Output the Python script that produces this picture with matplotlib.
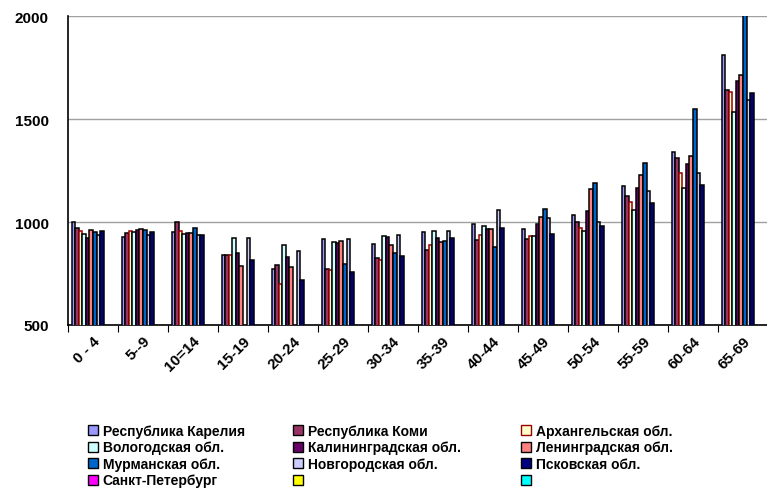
import numpy as np
import matplotlib
matplotlib.use("Agg")
import matplotlib.pyplot as plt
from matplotlib.patches import Patch

plt.rcParams['font.family'] = ['Liberation Sans', 'DejaVu Sans']

categories = ["0 - 4", "5--9", "10=14", "15-19", "20-24", "25-29", "30-34",
              "35-39", "40-44", "45-49", "50-54", "55-59", "60-64", "65-69"]

series_names = ["Республика Карелия", "Республика Коми", "Архангельская обл.",
                "Вологодская обл.", "Калининградская обл.", "Ленинградская обл.",
                "Мурманская обл.", "Новгородская обл.", "Псковская обл.",
                "Санкт-Петербург", "", ""]

nan = np.nan
karelia     = [1000, 930, 950, 838, 772, 916, 893, 953, 989, 966, 1035, 1173, 1340, 1811]
komi        = [972, 945, 1000, 838, 791, 770, 824, 866, 914, 917, 1000, 1128, 1312, 1641]
arkhangelsk = [959, 956, 959, 838, 700, 766, 816, 887, 935, 934, 971, 1100, 1241, 1633]
vologda     = [943, 950, 940, 924, 887, 905, 932, 959, 983, 934, 955, 1060, 1165, 1535]
kaliningrad = [925, 964, 948, 851, 829, 900, 926, 922, 966, 989, 1053, 1165, 1281, 1686]
leningrad   = [961, 966, 947, 785, 783, 908, 887, 905, 968, 1026, 1163, 1230, 1322, 1715]
murmansk    = [953, 964, 969, nan, nan, 798, 851, 910, 880, 1066, 1189, 1288, 1549, 2050]
novgorod    = [935, 937, 935, 925, 861, 916, 935, 957, 1057, 1018, 1001, 1149, 1241, 1592]
pskov       = [955, 951, 936, 817, 718, 759, 835, 921, 969, 942, 981, 1091, 1181, 1625]
spb         = [nan] * 14
empty1      = [nan] * 14
empty2      = [nan] * 14

series_values = [karelia, komi, arkhangelsk, vologda, kaliningrad, leningrad,
                 murmansk, novgorod, pskov, spb, empty1, empty2]

fills = ["#9999FF", "#993366", "#FFFFCC", "#CCFFFF", "#660066", "#FF8080",
         "#0066CC", "#CCCCFF", "#000080", "#FF00FF", "#FFFF00", "#00FFFF"]
edges = ["black", "black", "#990000", "black", "black", "black",
         "black", "black", "black", "black", "black", "black"]

fig = plt.figure(figsize=(7.67, 4.89), dpi=100)
ax = fig.add_axes([68/767, 1-326/489, 700/767, (326-17.3)/489])

x = np.arange(len(categories))
n = len(series_values)
w = 0.0712
for i, vals in enumerate(series_values):
    pos = x - n*w/2 + (i + 0.5)*w
    ax.bar(pos, vals, width=w, bottom=0, color=fills[i], edgecolor=edges[i],
           linewidth=1.1, zorder=3)

ax.set_xlim(-0.5, len(categories) - 0.5)
ax.set_ylim(500, 2000)
ax.set_yticks([500, 1000, 1500, 2000])
ax.set_yticklabels(["500", "1000", "1500", "2000"], fontsize=11, fontweight='bold')
ax.yaxis.grid(True, color="#A0A0A0", linewidth=1.0, zorder=0)
ax.set_axisbelow(True)

ax.set_xticks(x)
ax.set_xticklabels(categories, rotation=45, ha='right', rotation_mode='anchor',
                   fontsize=11, fontweight='bold')
ax.tick_params(axis='x', length=0, pad=6)
ax.set_xticks(np.arange(-0.5, len(categories), 1.0), minor=True)
ax.tick_params(axis='x', which='minor', length=5, color='black', width=0.8)
ax.tick_params(axis='y', length=0, pad=14)

for s in ['top', 'right']:
    ax.spines[s].set_visible(False)
ax.spines['left'].set_color('black')
ax.spines['bottom'].set_color('black')
ax.spines['left'].set_linewidth(1.2)
ax.spines['bottom'].set_linewidth(1.2)

handles = [Patch(facecolor=fills[i], edgecolor=edges[i] if i == 2 else 'black',
                 linewidth=1.0) for i in range(n)]

col_x = [88/767, 293/767, 521/767]
for c in range(3):
    idx = [c, c + 3, c + 6, c + 9]
    leg = fig.legend([handles[i] for i in idx], [series_names[i] for i in idx],
                     loc='upper left', bbox_to_anchor=(col_x[c], 1 - 425/489),
                     frameon=False, ncol=1, handlelength=0.75, handleheight=0.75,
                     handletextpad=0.3, labelspacing=0.18, borderpad=0,
                     borderaxespad=0, prop={'weight': 'bold', 'size': 10})

fig.savefig("out.png", dpi=100)
